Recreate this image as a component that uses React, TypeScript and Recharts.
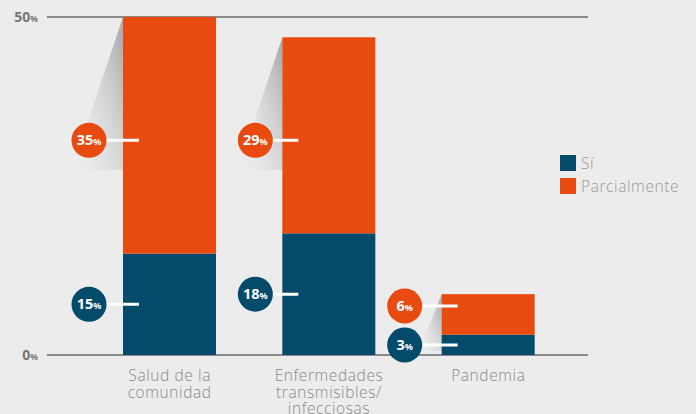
import { Bar, BarChart, CartesianGrid, Legend, XAxis, YAxis } from 'recharts';

const categories = ['Salud de la\ncomunidad', 'Enfermedades\ntransmisibles/\ninfecciosas', 'Pandemia'];
const si = [15, 18, 3];
const parcial = [35, 29, 6];
const yTicks = [0, 50];

const NAVY = '#034a6b';
const ORANGE = '#e94a10';
const GREY = '#8a8a8a';
const FONT = '"Open Sans", "Noto Sans", sans-serif';
const BOLD = '"Noto Sans", "Open Sans", sans-serif';

// gap between bar edge and label circle centre, per category
const labelGap = [34, 27, 37];
const R = 17.5;

const data = categories.map((name, i) => ({ name, si: si[i], parcial: parcial[i] }));

function Bubble({ cx, cy, barX, value, color }: any) {
  return (
    <g>
      <line x1={cx} y1={cy} x2={barX + 16} y2={cy} stroke="#fff" strokeWidth={3} />
      <circle cx={cx} cy={cy} r={R} fill={color} />
      <text x={cx} y={cy + 5} textAnchor="middle" fill="#fff" fontFamily={BOLD} fontWeight={700}>
        <tspan fontSize={14.5}>{value}</tspan>
        <tspan fontSize={9}>%</tspan>
      </text>
    </g>
  );
}

function labelPositions(props: any) {
  const { x, y, width, height, index, payload } = props;
  const unit = height / payload.si;
  const top = y - payload.parcial * unit;
  const base = y + height;
  const small = base - top < 90;
  const cx = x - labelGap[index];
  const siY = small ? base - 10 : y + height / 2;
  const parY = small ? siY - 39 : top + (y - top) / 2 + 5;
  return { x, y, width, height, top, base, small, cx, siY, parY };
}

function SiShape(props: any) {
  const { index, payload } = props;
  const p = labelPositions(props);
  const yEnd = p.small ? p.base - 4 : p.parY + 30;
  const leftX = Math.max(p.x - 0.4 * (yEnd - p.top), p.cx - R);
  const gid = `shadow-${index}`;
  return (
    <g>
      <defs>
        <linearGradient id={gid} x1="1" y1="0.15" x2="0" y2="1">
          <stop offset="0" stopColor="#9fa3a6" stopOpacity={0.85} />
          <stop offset="1" stopColor="#ececec" stopOpacity={0} />
        </linearGradient>
      </defs>
      <polygon points={`${p.x},${p.top} ${leftX},${yEnd} ${p.x},${yEnd}`} fill={`url(#${gid})`} />
      <rect x={p.x} y={p.y} width={p.width} height={p.height} fill={NAVY} />
      <Bubble cx={p.cx} cy={p.siY} barX={p.x} value={payload.si} color={NAVY} />
    </g>
  );
}

function ParcialShape(props: any) {
  const { x, y, width, height, index, payload } = props;
  const base = y + height + (height / payload.parcial) * payload.si;
  const small = base - y < 90;
  const cx = x - labelGap[index];
  const cy = small ? base - 10 - 39 : y + height / 2 + 5;
  return (
    <g>
      <rect x={x} y={y} width={width} height={height} fill={ORANGE} />
      <Bubble cx={cx} cy={cy} barX={x} value={payload.parcial} color={ORANGE} />
    </g>
  );
}

function YTick({ x, y, payload }: any) {
  return (
    <text x={x} y={y + 5} textAnchor="end" fill="#777" fontFamily={BOLD} fontWeight={700}>
      <tspan fontSize={14}>{payload.value}</tspan>
      <tspan fontSize={8.5}>%</tspan>
    </text>
  );
}

function XTick({ x, y, payload }: any) {
  const lines = String(payload.value).split('\n');
  return (
    <text x={x} y={y} textAnchor="middle" fill={GREY} fontFamily={FONT} fontWeight={300} fontSize={15.5} letterSpacing={0.6}>
      {lines.map((l, i) => (
        <tspan key={i} x={x} dy={i === 0 ? 18 : 16.5}>{l}</tspan>
      ))}
    </text>
  );
}

function LegendBox() {
  const items = [
    { label: 'Sí', color: NAVY },
    { label: 'Parcialmente', color: ORANGE },
  ];
  return (
    <div style={{ fontFamily: FONT, fontWeight: 300, fontSize: 15.5, letterSpacing: 0.6, color: '#999' }}>
      {items.map((it) => (
        <div key={it.label} style={{ display: 'flex', alignItems: 'center', height: 20, marginBottom: 3 }}>
          <span style={{ width: 16, height: 16, background: it.color, display: 'inline-block', marginRight: 5 }} />
          {it.label}
        </div>
      ))}
    </div>
  );
}

export default function App() {
  return (
    <div style={{ position: 'absolute', left: 0, top: 0, width: 696, height: 414, background: '#ececec', overflow: 'hidden' }}>
      <BarChart width={696} height={414} data={data} margin={{ top: 17, right: 108, bottom: 0, left: 0 }} barSize={93}>
        <CartesianGrid vertical={false} stroke="#8a8a8a" strokeWidth={2} />
        <XAxis dataKey="name" axisLine={false} tickLine={false} height={59} tick={<XTick />} interval={0} padding={{ left: 43, right: 20 }} />
        <YAxis domain={[0, 50]} ticks={yTicks} axisLine={false} tickLine={false} width={47} tick={<YTick />} tickMargin={3} />
        <Legend layout="horizontal" verticalAlign="middle" content={<LegendBox />} wrapperStyle={{ position: 'absolute', left: 560, top: 153, width: 'auto' }} />
        <Bar dataKey="si" stackId="a" fill={NAVY} shape={<SiShape />} isAnimationActive={false} />
        <Bar dataKey="parcial" stackId="a" fill={ORANGE} shape={<ParcialShape />} isAnimationActive={false} />
      </BarChart>
    </div>
  );
}
